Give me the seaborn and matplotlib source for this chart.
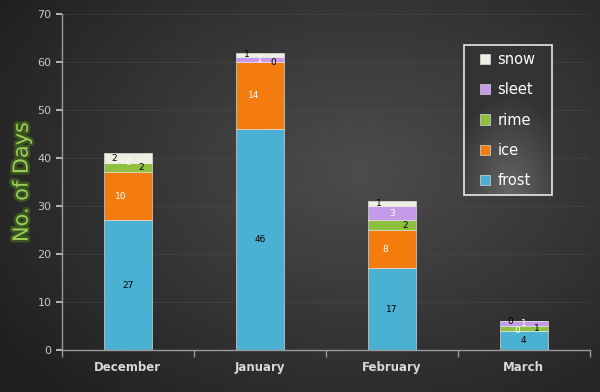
import numpy as np
import pandas as pd
import seaborn as sns
import matplotlib.pyplot as plt
import matplotlib.patheffects as pe
from matplotlib.patches import Rectangle

months = ["December", "January", "February", "March"]
frost = [27, 46, 17, 4]
ice = [10, 14, 8, 0]
rime = [2, 0, 2, 1]
sleet = [0, 1, 3, 1]
snow = [2, 1, 1, 0]

series = ["frost", "ice", "rime", "sleet", "snow"]
values = [frost, ice, rime, sleet, snow]
colors = ["#4bb1d3", "#f47b0d", "#8fbf3f", "#c49ae9", "#eeeee2"]
label_colors = ["black", "white", "black", "white", "black"]
# horizontal nudge of value labels so thin segments don't collide
label_dx = [0, -0.05, 0.1, 0.0, -0.1]

sns.set_theme(style="dark")
plt.rcParams["font.family"] = ["DejaVu Sans"]

fig = plt.figure(figsize=(6, 3.92), dpi=100)

# radial gradient background
bg = fig.add_axes([0, 0, 1, 1], zorder=-10)
yy, xx = np.mgrid[0:392, 0:600]
r = np.sqrt(((xx - 360) / 420.0) ** 2 + ((yy - 170) / 300.0) ** 2)
shade = np.clip(0.30 - 0.17 * r, 0.12, 0.30)
bg.imshow(np.dstack([shade, shade, shade]), aspect="auto", extent=[0, 1, 0, 1])
bg.axis("off")

ax = fig.add_axes([0.103, 0.107, 0.88, 0.857])
ax.patch.set_alpha(0)

df = pd.DataFrame({"month": months})
bottom = np.zeros(len(months))
for name, vals, col, lc, dx in zip(series, values, colors, label_colors, label_dx):
    df[name] = vals
    sns.barplot(data=df, x="month", y=name, color=col, width=0.36, bottom=bottom,
                ax=ax, label=name, edgecolor="#f2f2f2", linewidth=0.4, saturation=1)
    for i, v in enumerate(vals):
        ax.text(i + dx, bottom[i] + v / 2.0, str(v), ha="center", va="center",
                color=lc, fontsize=6.5)
    bottom = bottom + np.array(vals)

# legend box with a soft glow toward the bottom
lx0, lx1, ly0, ly1 = 0.761, 0.928, 0.461, 0.908
gy, gx = np.mgrid[0:60, 0:40]
g = np.sqrt(((gx - 20) / 28.0) ** 2 + (gy / 40.0) ** 2)
gshade = np.clip(0.40 - 0.2 * g, 0.2, 0.40)
ax.imshow(np.dstack([gshade, gshade, gshade]), origin="lower", aspect="auto",
          extent=[lx0, lx1, ly0, ly1], transform=ax.transAxes, zorder=3)
ax.add_patch(Rectangle((lx0, ly0), lx1 - lx0, ly1 - ly0, transform=ax.transAxes,
                       fill=False, edgecolor="#e8e8e8", linewidth=1.2, zorder=4))

ax.set_xlim(-0.5, 3.5)
ax.set_ylim(0, 70)
ax.set_aspect("auto")
ax.set_yticks(range(0, 71, 10))
ax.set_xlabel("")
ax.set_ylabel("No. of Days", color="#9ccc5a", fontsize=15,
              path_effects=[pe.withStroke(linewidth=3.5, foreground="#3b5520")])
ax.yaxis.set_label_coords(-0.057, 0.5)
ax.tick_params(axis="y", colors="#c8c8c8", labelsize=8, length=4, direction="out", left=True)
ax.tick_params(axis="x", colors="#d8d8d8", labelsize=8.5, length=0, pad=8)
for lab in ax.get_xticklabels():
    lab.set_fontweight("bold")
ax.set_xticks([-0.5, 0.5, 1.5, 2.5, 3.5], minor=True)
ax.tick_params(axis="x", which="minor", length=5, color="#9a9a9a", bottom=True)
ax.grid(axis="y", color="#555555", linewidth=0.5, alpha=0.5)
ax.grid(axis="x", visible=False)
for s in ["top", "right"]:
    ax.spines[s].set_visible(False)
for s in ["left", "bottom"]:
    ax.spines[s].set_color("#9a9a9a")
    ax.spines[s].set_linewidth(1)

handles, labels = ax.get_legend_handles_labels()
leg = ax.legend(handles[::-1], labels[::-1], loc="upper left",
                bbox_to_anchor=(0.792, 0.887), fontsize=10.5, labelcolor="white",
                frameon=False, handlelength=0.7, handleheight=0.7,
                labelspacing=1.05, borderpad=0, handletextpad=0.5,
                borderaxespad=0)
leg.set_zorder(5)

fig.savefig("out.png", dpi=100)
